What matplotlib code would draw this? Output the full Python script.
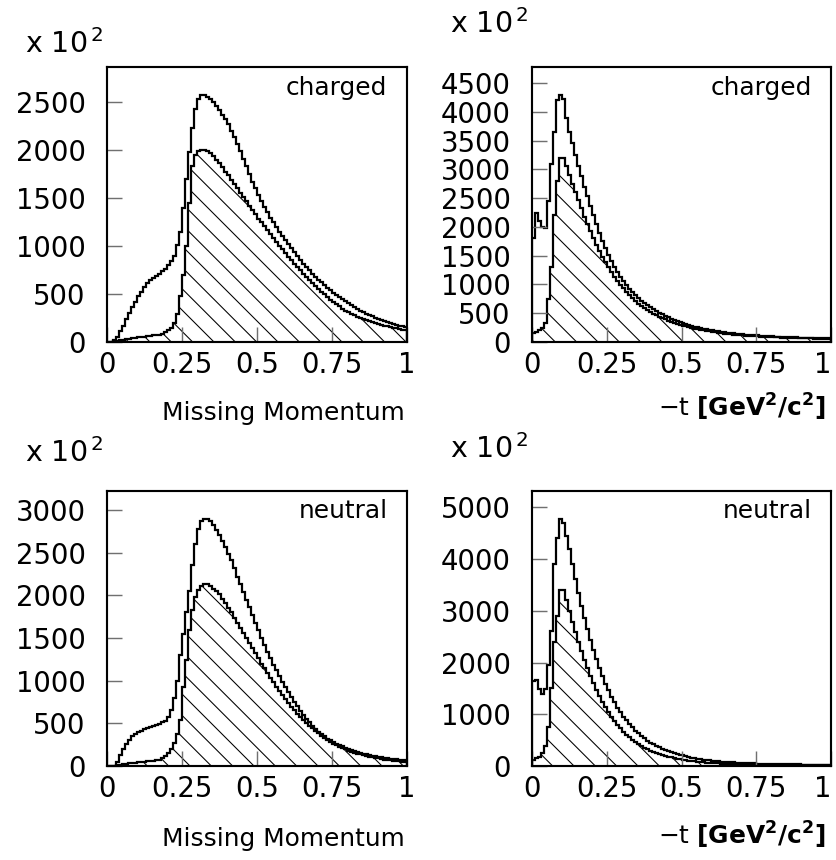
import numpy as np
import matplotlib
matplotlib.use('Agg')
import matplotlib.pyplot as plt

plt.rcParams['font.family'] = 'DejaVu Sans'
plt.rcParams['mathtext.fontset'] = 'dejavusans'
plt.rcParams['hatch.linewidth'] = 0.6
plt.rcParams['hatch.color'] = 'black'

# 100 bins on [0, 1], contents in units of 10^2
edges = np.linspace(0, 1, 101)

# charged, missing momentum: all events / selected (hatched)
mm_charged_all = [0, 5, 20, 55, 110, 170, 240, 300, 360, 420,
                  475, 525, 575, 615, 645, 665, 690, 710, 735, 765,
                  800, 840, 900, 1010, 1150, 1400, 1700, 1980, 2230, 2430,
                  2530, 2570, 2570, 2555, 2530, 2500, 2460, 2415, 2370, 2320,
                  2270, 2200, 2140, 2060, 1985, 1905, 1830, 1750, 1670, 1600,
                  1530, 1465, 1405, 1350, 1295, 1245, 1195, 1150, 1105, 1060,
                  1020, 975, 935, 895, 855, 815, 780, 745, 710, 680,
                  650, 620, 590, 565, 540, 515, 490, 465, 445, 425,
                  405, 385, 365, 345, 328, 312, 296, 280, 266, 252,
                  240, 228, 217, 207, 197, 188, 179, 171, 163, 155]
mm_charged_sel = [1, 5, 10, 15, 20, 25, 30, 34, 38, 42,
                  47, 52, 56, 60, 64, 68, 72, 78, 88, 100,
                  120, 150, 200, 290, 480, 700, 1000, 1450, 1830, 1950,
                  1990, 2000, 2005, 1995, 1970, 1940, 1900, 1860, 1820, 1775,
                  1735, 1690, 1645, 1600, 1555, 1510, 1465, 1420, 1375, 1330,
                  1285, 1245, 1205, 1165, 1125, 1085, 1045, 1005, 965, 925,
                  885, 850, 815, 780, 745, 710, 675, 645, 615, 585,
                  555, 525, 495, 468, 442, 416, 392, 370, 348, 328,
                  310, 294, 278, 264, 250, 238, 226, 215, 205, 195,
                  186, 178, 170, 162, 155, 148, 141, 134, 127, 120]

# charged, -t
t_charged_all = [1800, 2250, 2100, 2000, 1980, 2450, 3100, 3650, 4200, 4300,
                 4220, 3900, 3650, 3450, 3250, 3060, 2880, 2700, 2530, 2360,
                 2200, 2050, 1900, 1760, 1630, 1510, 1400, 1300, 1210, 1130,
                 1060, 990, 925, 865, 810, 760, 715, 675, 635, 600,
                 565, 535, 505, 478, 452, 428, 405, 385, 365, 346,
                 328, 312, 296, 282, 268, 255, 243, 232, 221, 211,
                 202, 193, 185, 177, 170, 163, 157, 151, 145, 140,
                 135, 130, 125, 121, 117, 113, 109, 106, 103, 100,
                 97, 94, 92, 89, 87, 85, 83, 81, 79, 77,
                 75, 73, 71, 70, 68, 67, 65, 64, 63, 62]
t_charged_sel = [150, 180, 200, 240, 330, 750, 1300, 2200, 2800, 3200,
                 3200, 3050, 2900, 2750, 2600, 2460, 2320, 2180, 2050, 1920,
                 1800, 1690, 1580, 1480, 1385, 1295, 1210, 1130, 1060, 995,
                 930, 870, 812, 760, 712, 668, 628, 590, 555, 522,
                 492, 464, 438, 414, 391, 370, 350, 332, 315, 299,
                 284, 270, 257, 244, 232, 221, 211, 201, 192, 183,
                 175, 167, 160, 153, 147, 141, 135, 130, 125, 120,
                 116, 112, 108, 104, 101, 98, 95, 92, 89, 87,
                 84, 82, 80, 78, 76, 74, 72, 70, 68, 67,
                 65, 64, 62, 61, 60, 59, 58, 57, 56, 55]

# neutral, missing momentum
mm_neutral_all = [0, 0, 5, 50, 130, 200, 260, 310, 350, 380,
                  400, 415, 430, 445, 460, 470, 480, 495, 510, 530,
                  570, 660, 800, 1000, 1300, 1550, 1800, 2050, 2350, 2600,
                  2780, 2870, 2900, 2900, 2870, 2830, 2770, 2710, 2640, 2570,
                  2490, 2410, 2320, 2220, 2130, 2040, 1950, 1860, 1770, 1680,
                  1590, 1505, 1420, 1340, 1260, 1185, 1120, 1055, 990, 925,
                  865, 805, 750, 700, 650, 600, 555, 512, 472, 435,
                  400, 372, 346, 322, 300, 280, 262, 245, 229, 214,
                  200, 187, 175, 164, 154, 145, 136, 128, 120, 113,
                  107, 101, 96, 91, 86, 82, 78, 75, 72, 69]
mm_neutral_sel = [0, 0, 2, 8, 14, 20, 25, 30, 34, 38,
                  42, 46, 50, 54, 58, 62, 67, 75, 90, 115,
                  150, 200, 270, 380, 540, 930, 1240, 1590, 1830, 1980,
                  2060, 2110, 2130, 2130, 2110, 2080, 2050, 2010, 1960, 1910,
                  1855, 1800, 1740, 1680, 1620, 1560, 1500, 1440, 1380, 1320,
                  1260, 1200, 1145, 1090, 1035, 980, 930, 880, 830, 785,
                  740, 695, 655, 615, 575, 540, 505, 472, 440, 410,
                  382, 355, 330, 306, 284, 263, 244, 226, 210, 195,
                  181, 168, 156, 145, 135, 126, 117, 109, 101, 94,
                  88, 82, 76, 71, 66, 62, 58, 55, 52, 49]

# neutral, -t
t_neutral_all = [1650, 1660, 1480, 1400, 1480, 1950, 2600, 3900, 4400, 4780,
                 4700, 4450, 4200, 3900, 3620, 3350, 3100, 2860, 2640, 2430,
                 2240, 2060, 1890, 1730, 1590, 1460, 1340, 1230, 1130, 1040,
                 955, 880, 810, 745, 685, 630, 580, 535, 492, 454,
                 420, 390, 362, 336, 312, 290, 270, 251, 234, 218,
                 203, 189, 176, 164, 153, 143, 134, 125, 117, 110,
                 103, 97, 91, 86, 81, 77, 73, 69, 65, 62,
                 59, 56, 53, 51, 49, 47, 45, 43, 41, 40,
                 38, 37, 36, 35, 34, 33, 32, 31, 30, 29,
                 28, 27, 27, 26, 25, 25, 24, 24, 23, 23]
t_neutral_sel = [120, 150, 180, 250, 380, 760, 1500, 2400, 2900, 3400,
                 3400, 3200, 3000, 2780, 2590, 2400, 2220, 2050, 1890, 1740,
                 1600, 1470, 1350, 1240, 1135, 1040, 950, 870, 795, 725,
                 662, 605, 553, 505, 462, 422, 386, 353, 323, 296,
                 271, 249, 229, 211, 194, 179, 165, 152, 140, 129,
                 119, 110, 102, 95, 88, 82, 76, 71, 66, 62,
                 58, 54, 51, 48, 45, 43, 41, 39, 37, 35,
                 34, 32, 31, 30, 29, 28, 27, 26, 25, 24,
                 23, 22, 22, 21, 21, 20, 20, 19, 19, 18,
                 18, 17, 17, 17, 16, 16, 16, 15, 15, 15]

xticks = [0, 0.25, 0.5, 0.75, 1]
xticklabels = ['0', '0.25', '0.5', '0.75', '1']

W, H = 836, 860
fig = plt.figure(figsize=(W / 128, H / 128), dpi=128)


def px(x, y):
    return x / W, 1 - y / H


def panel(left, top, right, bottom, h_all, h_sel, ymax, yticks, tag):
    ax = fig.add_axes([left / W, 1 - bottom / H, (right - left) / W, (bottom - top) / H])
    ax.stairs(h_sel, edges, baseline=0, fill=True, facecolor='none',
              edgecolor='black', linewidth=0, hatch='\\\\')
    ax.stairs(h_sel, edges, baseline=0, color='black', linewidth=1.25)
    ax.stairs(h_all, edges, baseline=0, color='black', linewidth=1.25)
    ax.set_xlim(0, 1)
    ax.set_ylim(0, ymax)
    ax.set_xticks(xticks)
    ax.set_xticklabels(xticklabels)
    ax.set_yticks(yticks)
    ax.tick_params(direction='in', length=8.4, width=0.8, color='#707070',
                   labelsize=15.5, top=False, right=False)
    ax.tick_params(axis='y', pad=12)
    ax.tick_params(axis='x', pad=5)
    for s in ax.spines.values():
        s.set_linewidth(1.2)
    ax.text(0.935, 0.9, tag, transform=ax.transAxes, ha='right', va='baseline', fontsize=14)
    return ax


panel(107, 67, 407, 342, mm_charged_all, mm_charged_sel, 2865, range(0, 2501, 500), 'charged')
ax_tr = panel(532, 67, 831, 342, t_charged_all, t_charged_sel, 4778, range(0, 4501, 500), 'charged')
panel(107, 491, 407, 766, mm_neutral_all, mm_neutral_sel, 3223, range(0, 3001, 500), 'neutral')
ax_br = panel(532, 491, 831, 766, t_neutral_all, t_neutral_sel, 5315, range(0, 5001, 1000), 'neutral')

# keep the last "1" inside the picture on the right-hand panels
for ax in (ax_tr, ax_br):
    ax.get_xticklabels()[-1].set_horizontalalignment('right')

# scale factors
for (x, y) in [(25, 53), (450, 33), (25, 462), (450, 458)]:
    fig.text(*px(x, y), r'x 10$^{\,2}$', fontsize=16, ha='left', va='baseline')

# axis titles
tlabel = r'$-$t $\mathbf{[GeV^{2}/c^{2}]}$'
fig.text(*px(405, 420), 'Missing Momentum', fontsize=14, ha='right', va='baseline')
fig.text(*px(405, 846), 'Missing Momentum', fontsize=14, ha='right', va='baseline')
fig.text(*px(826, 417), tlabel, fontsize=14, ha='right', va='baseline')
fig.text(*px(826, 845), tlabel, fontsize=14, ha='right', va='baseline')

fig.savefig('out.png', dpi=128)
